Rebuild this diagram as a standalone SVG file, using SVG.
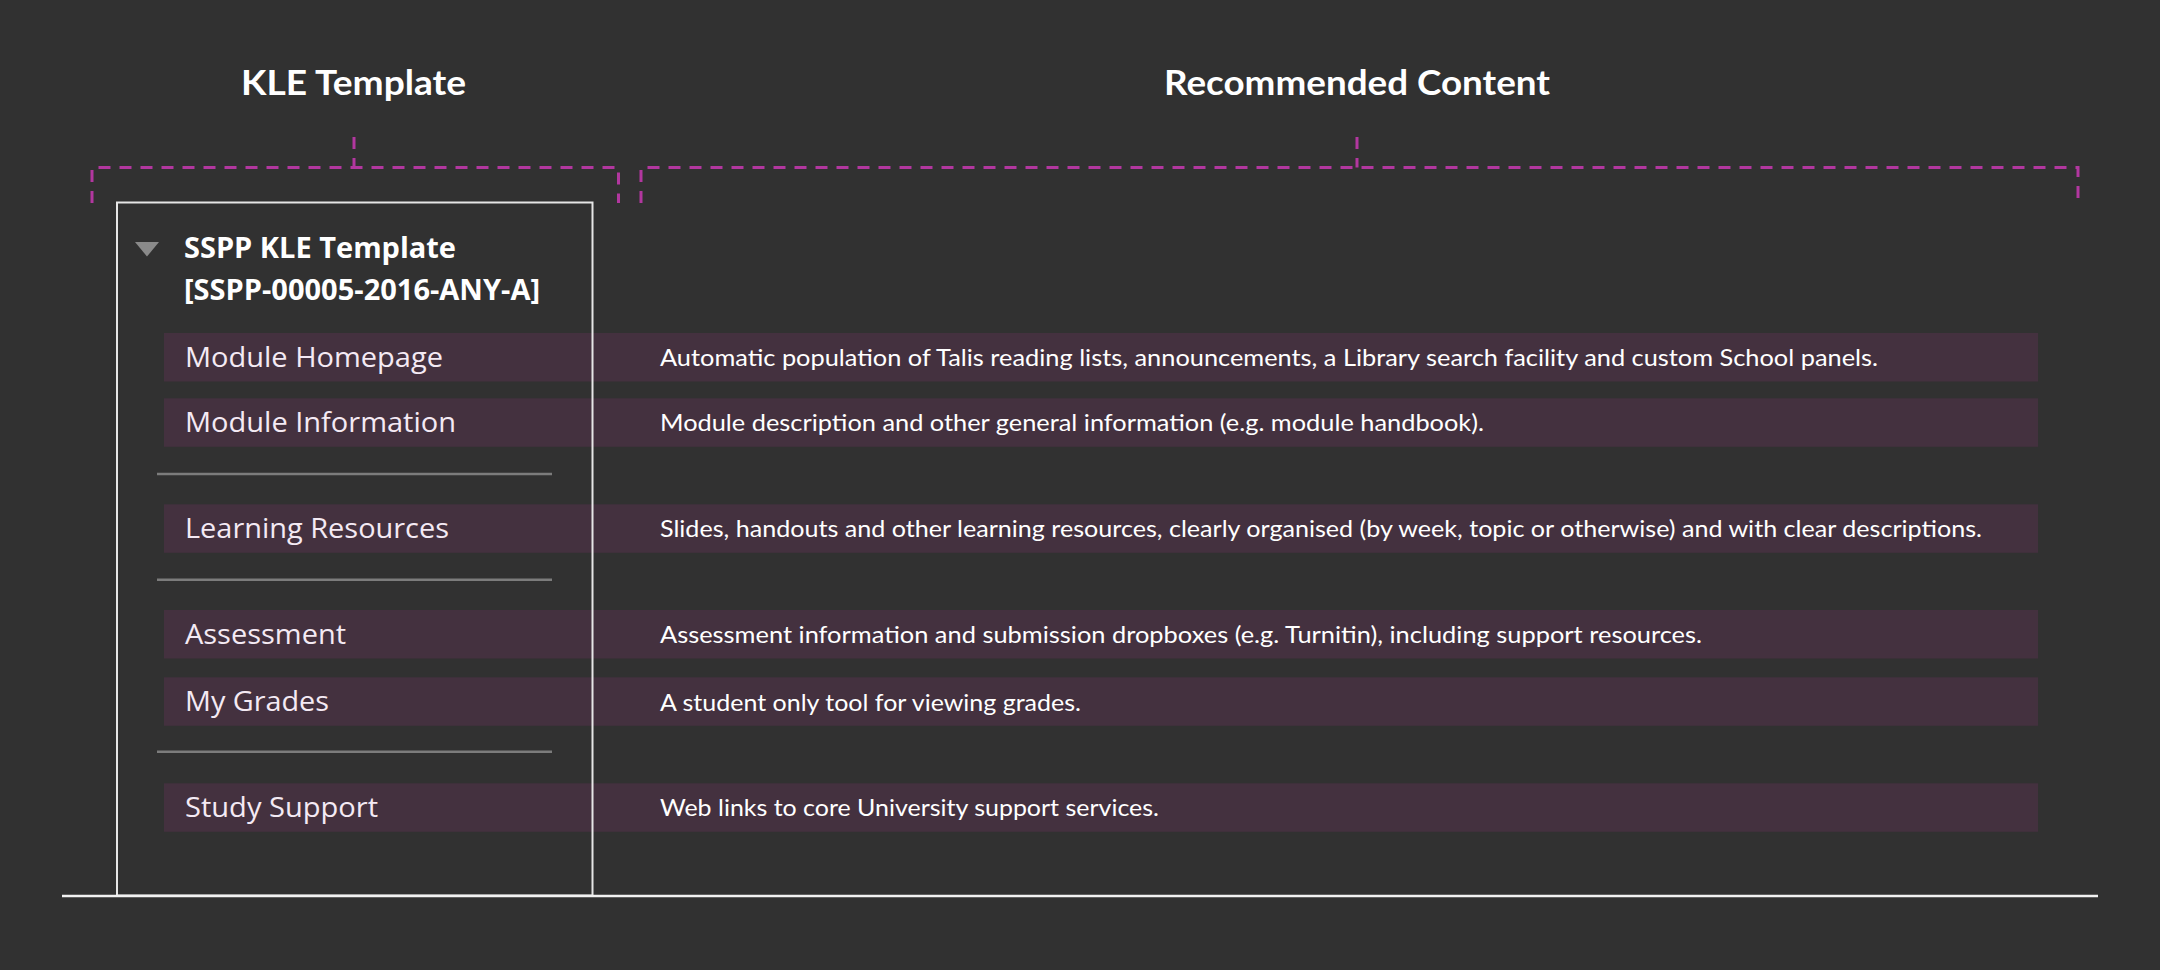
<svg xmlns="http://www.w3.org/2000/svg" width="2160" height="970" viewBox="0 0 2160 970">
  <style>
    .title { font-family: "Lato", "Open Sans", sans-serif; font-weight: 700; font-size: 34px; fill: #ffffff; }
    .bar { fill: #44313f; }
    .lbl { font-family: "Open Sans", "Noto Sans", sans-serif; font-weight: 500; font-size: 28px; fill: #f4eaf4; }
    .desc { font-family: "Lato", "Noto Sans", sans-serif; font-size: 23.5px; fill: #ffffff; }
    .head { font-family: "Open Sans", "Noto Sans", sans-serif; font-weight: 700; font-size: 28px; fill: #ffffff; }
    .sep { stroke: #7c7c7c; stroke-width: 2.5; }
    .brk { fill: none; stroke: #b2379f; stroke-width: 3; stroke-dasharray: 12 9; }
  </style>
  <rect width="2160" height="970" fill="#313131"/>

  <g id="title-kle">
    <text class="title" x="241" y="95" textLength="225" lengthAdjust="spacingAndGlyphs">KLE Template</text>
  </g>
  <g id="title-recommended">
    <text class="title" x="1164" y="95" textLength="386" lengthAdjust="spacingAndGlyphs">Recommended Content</text>
  </g>

  <g id="connectors">
    <path class="brk" d="M92,203 V167.5 H618.5 V203"/>
    <path class="brk" d="M354,137 V167.5"/>
    <path class="brk" d="M641,203 V167.5 H2078 V203"/>
    <path class="brk" d="M1357,137 V167.5"/>
  </g>

  <g id="row-homepage">
    <rect class="bar" x="164" y="333" width="1874" height="48.5"/>
    <text class="lbl" x="185" y="366.5" textLength="258" lengthAdjust="spacingAndGlyphs">Module Homepage</text>
    <text class="desc" x="660" y="366" textLength="1218" lengthAdjust="spacingAndGlyphs">Automatic population of Talis reading lists, announcements, a Library search facility and custom School panels.</text>
  </g>
  <g id="row-information">
    <rect class="bar" x="164" y="398.3" width="1874" height="48.5"/>
    <text class="lbl" x="185" y="431.8" textLength="271" lengthAdjust="spacingAndGlyphs">Module Information</text>
    <text class="desc" x="660" y="431.3" textLength="824" lengthAdjust="spacingAndGlyphs">Module description and other general information (e.g. module handbook).</text>
  </g>
  <g id="row-learning">
    <rect class="bar" x="164" y="504.3" width="1874" height="48.5"/>
    <text class="lbl" x="185" y="537.8" textLength="264" lengthAdjust="spacingAndGlyphs">Learning Resources</text>
    <text class="desc" x="660" y="537.3" textLength="1322" lengthAdjust="spacingAndGlyphs">Slides, handouts and other learning resources, clearly organised (by week, topic or otherwise) and with clear descriptions.</text>
  </g>
  <g id="row-assessment">
    <rect class="bar" x="164" y="610" width="1874" height="48.5"/>
    <text class="lbl" x="185" y="643.5" textLength="161" lengthAdjust="spacingAndGlyphs">Assessment</text>
    <text class="desc" x="660" y="643" textLength="1042" lengthAdjust="spacingAndGlyphs">Assessment information and submission dropboxes (e.g. Turnitin), including support resources.</text>
  </g>
  <g id="row-grades">
    <rect class="bar" x="164" y="677.3" width="1874" height="48.5"/>
    <text class="lbl" x="185" y="710.8" textLength="144" lengthAdjust="spacingAndGlyphs">My Grades</text>
    <text class="desc" x="660" y="710.5" textLength="421" lengthAdjust="spacingAndGlyphs">A student only tool for viewing grades.</text>
  </g>
  <g id="row-support">
    <rect class="bar" x="164" y="783.3" width="1874" height="48.5"/>
    <text class="lbl" x="185" y="816.8" textLength="193" lengthAdjust="spacingAndGlyphs">Study Support</text>
    <text class="desc" x="660" y="816.3" textLength="499" lengthAdjust="spacingAndGlyphs">Web links to core University support services.</text>
  </g>

  <g id="separators">
    <line class="sep" x1="157" y1="474" x2="552" y2="474"/>
    <line class="sep" x1="157" y1="579.7" x2="552" y2="579.7"/>
    <line class="sep" x1="157" y1="751.7" x2="552" y2="751.7"/>
  </g>

  <g id="template-panel">
    <rect x="117" y="202.5" width="475.5" height="693" fill="none" stroke="#e6e6e6" stroke-width="2"/>
    <polygon points="135,242 159,242 147,256.5" fill="#8a8a8a"/>
    <text class="head" x="184" y="258" textLength="272" lengthAdjust="spacingAndGlyphs">SSPP KLE Template</text>
    <text class="head" x="184" y="299.5" textLength="356" lengthAdjust="spacingAndGlyphs">[SSPP-00005-2016-ANY-A]</text>
  </g>

  <line id="baseline" x1="62" y1="896" x2="2098" y2="896" stroke="#f2f2f2" stroke-width="2.5"/>
</svg>
